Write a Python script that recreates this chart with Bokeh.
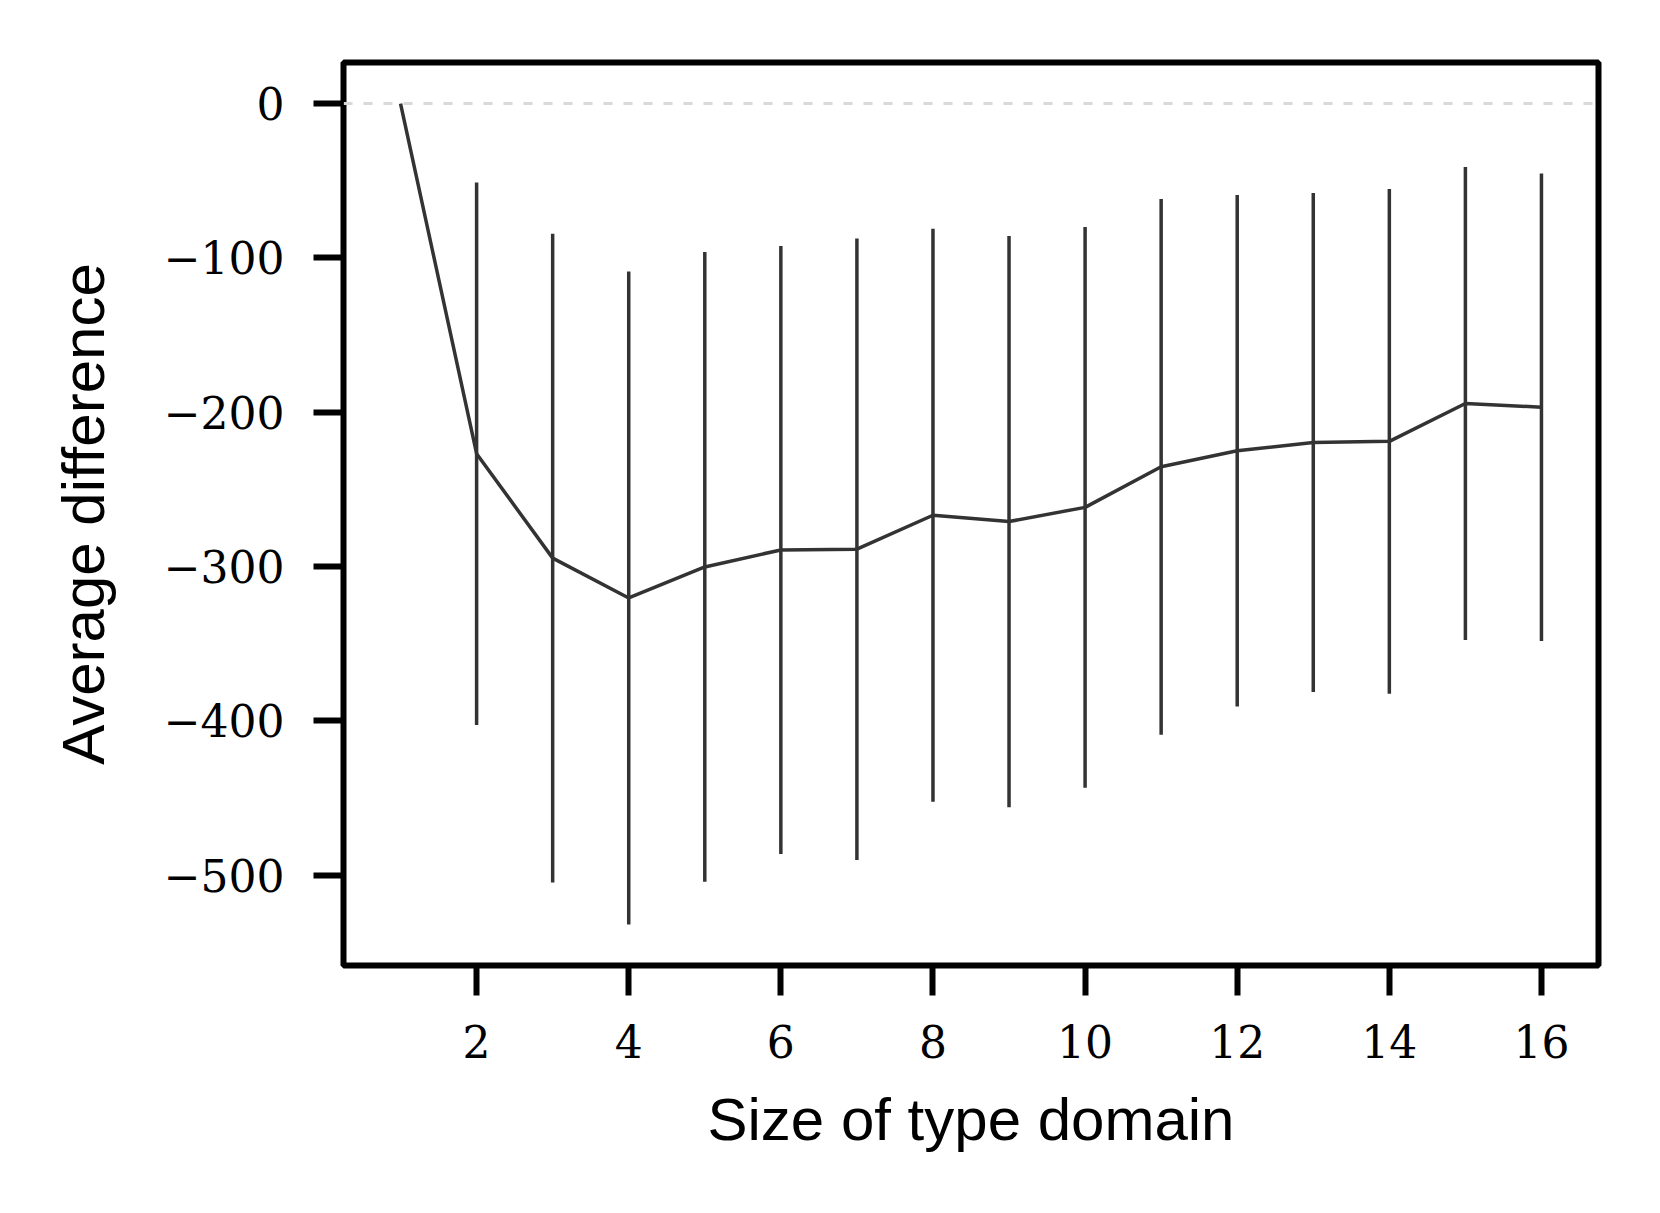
from bokeh.plotting import figure
from bokeh.models import FixedTicker, Span, ColumnDataSource, Range1d
from bokeh.embed import file_html
from bokeh.resources import INLINE

# ---- data ----
domain_size = list(range(1, 17))
mean_diff = [0.0, -226.9, -294.6, -320.4, -300.3, -289.3, -288.8, -266.8,
             -270.9, -261.7, -235.4, -225.0, -219.7, -218.9, -194.4, -196.8]
std_diff = [0.0, 175.8, 210.2, 211.6, 204.1, 197.0, 201.4, 185.6,
            185.1, 181.7, 173.6, 165.7, 161.7, 163.6, 153.2, 151.5]
baseline = 0

x_ticks = [2, 4, 6, 8, 10, 12, 14, 16]
x_tick_labels = ["2", "4", "6", "8", "10", "12", "14", "16"]
y_ticks = [0, -100, -200, -300, -400, -500]
y_tick_labels = ["0", "\u2212100", "\u2212200", "\u2212300", "\u2212400", "\u2212500"]

x_label = "Size of type domain"
y_label = "Average difference"

# ---- derived ----
lower = [m - s for m, s in zip(mean_diff, std_diff)]
upper = [m + s for m, s in zip(mean_diff, std_diff)]
src = ColumnDataSource(dict(x=domain_size, y=mean_diff, lo=lower, hi=upper))

xmin, xmax = min(domain_size), max(domain_size)
ymin, ymax = min(lower + [baseline]), max(upper + [baseline])
xpad = 0.05 * (xmax - xmin)
ypad = 0.05 * (ymax - ymin)

p = figure(frame_width=1255, frame_height=903,
           min_border_left=343, min_border_right=46,
           min_border_top=62, min_border_bottom=232,
           x_range=Range1d(xmin - xpad, xmax + xpad),
           y_range=Range1d(ymin - ypad, ymax + ypad),
           output_backend="svg", toolbar_location=None)

p.background_fill_color = "white"
p.border_fill_color = "white"
p.grid.visible = False
p.outline_line_color = "black"
p.outline_line_width = 6

zero = Span(location=baseline, dimension="width", line_color="#d9d9d9",
            line_width=3, line_dash="9 11", level="underlay")
p.add_layout(zero)

p.line("x", "y", source=src, line_color="#333333", line_width=3.5)
p.segment(x0="x", y0="lo", x1="x", y1="hi", source=src,
          line_color="#333333", line_width=3.5)

for ax in p.axis:
    ax.axis_line_color = None
    ax.major_tick_line_color = "black"
    ax.major_tick_line_width = 6
    ax.major_tick_out = 30
    ax.major_tick_in = 0
    ax.minor_tick_out = 0
    ax.minor_tick_in = 0
    ax.major_label_text_font = "DejaVu Serif"
    ax.major_label_text_font_size = "44px"
    ax.major_label_text_color = "black"
    ax.axis_label_text_font = "Liberation Sans"
    ax.axis_label_text_font_size = "60px"
    ax.axis_label_text_font_style = "normal"
    ax.axis_label_text_color = "black"

p.xaxis.ticker = FixedTicker(ticks=x_ticks)
p.xaxis.major_label_overrides = dict(zip(x_ticks, x_tick_labels))
p.yaxis.ticker = FixedTicker(ticks=y_ticks)
p.yaxis.major_label_overrides = dict(zip(y_ticks, y_tick_labels))

p.xaxis.major_label_standoff = 29
p.yaxis.major_label_standoff = 29
p.xaxis.axis_label = x_label
p.yaxis.axis_label = y_label
p.xaxis.axis_label_standoff = 25
p.yaxis.axis_label_standoff = 44

with open("out.html", "w") as f:
    f.write(file_html(p, INLINE))
